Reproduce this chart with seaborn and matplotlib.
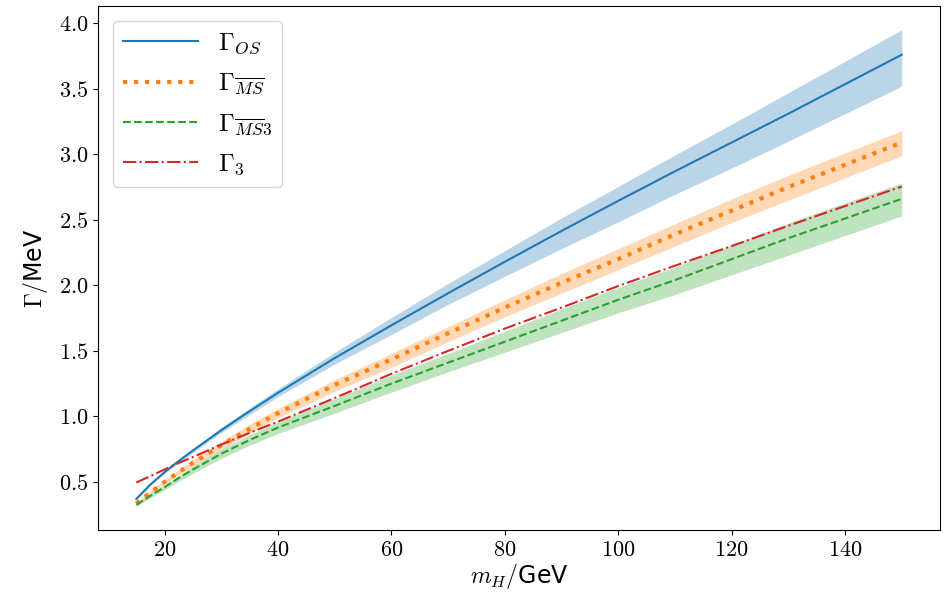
import numpy as np
import pandas as pd
import matplotlib
matplotlib.use("Agg")
import matplotlib.pyplot as plt
import seaborn as sns
from matplotlib.ticker import FuncFormatter

# Higgs mass grid (GeV)
m_h = [15, 17.5, 20, 22.5, 25, 30, 35, 40, 50, 60, 70, 80, 90, 100, 110, 120, 130, 140, 150]

# Gamma_OS (MeV) with band
gamma_os = [0.37, 0.48, 0.575, 0.66, 0.74, 0.895, 1.04, 1.18, 1.445, 1.695, 1.94, 2.18, 2.415, 2.645, 2.87, 3.09, 3.31, 3.535, 3.76]
gamma_os_hi = [0.37, 0.485, 0.585, 0.67, 0.755, 0.915, 1.065, 1.21, 1.49, 1.755, 2.015, 2.265, 2.515, 2.755, 2.995, 3.23, 3.47, 3.71, 3.95]
gamma_os_lo = [0.365, 0.475, 0.565, 0.645, 0.725, 0.875, 1.015, 1.15, 1.40, 1.625, 1.855, 2.07, 2.28, 2.485, 2.695, 2.895, 3.10, 3.31, 3.52]

# Gamma_MSbar
gamma_ms = [0.335, 0.42, 0.50, 0.575, 0.645, 0.78, 0.905, 1.025, 1.24, 1.435, 1.635, 1.83, 2.02, 2.20, 2.39, 2.57, 2.75, 2.92, 3.09]
gamma_ms_hi = [0.345, 0.435, 0.515, 0.595, 0.67, 0.81, 0.94, 1.06, 1.28, 1.48, 1.685, 1.89, 2.09, 2.28, 2.47, 2.66, 2.84, 3.01, 3.18]
gamma_ms_lo = [0.325, 0.405, 0.485, 0.555, 0.62, 0.75, 0.87, 0.99, 1.19, 1.375, 1.57, 1.76, 1.94, 2.12, 2.30, 2.48, 2.65, 2.82, 2.99]

# Gamma_MSbar3
gamma_ms3 = [0.325, 0.395, 0.46, 0.53, 0.595, 0.715, 0.82, 0.915, 1.08, 1.25, 1.41, 1.57, 1.73, 1.89, 2.04, 2.20, 2.36, 2.51, 2.66]
gamma_ms3_hi = [0.335, 0.41, 0.48, 0.55, 0.62, 0.75, 0.86, 0.96, 1.135, 1.315, 1.48, 1.65, 1.82, 1.985, 2.14, 2.31, 2.475, 2.63, 2.78]
gamma_ms3_lo = [0.315, 0.38, 0.44, 0.505, 0.565, 0.68, 0.78, 0.87, 1.025, 1.185, 1.34, 1.49, 1.64, 1.79, 1.93, 2.08, 2.23, 2.38, 2.53]

# Gamma_3 (no band)
gamma_3 = [0.495, 0.545, 0.595, 0.645, 0.69, 0.785, 0.875, 0.96, 1.14, 1.325, 1.50, 1.67, 1.83, 1.995, 2.15, 2.30, 2.455, 2.605, 2.754]

plt.rcParams['mathtext.fontset'] = 'cm'
plt.rcParams['font.size'] = 16

df = pd.DataFrame({'m_h': m_h, 'os': gamma_os, 'ms': gamma_ms,
                   'ms3': gamma_ms3, 'g3': gamma_3})

fig = plt.figure(figsize=(9.45, 6), dpi=100)
ax = fig.add_axes([0.1037, 0.1167, 0.891, 0.8733])

sns.lineplot(data=df, x='m_h', y='os', ax=ax, color='C0', lw=1.5,
             label=r'$\Gamma_{OS}$')
ax.fill_between(m_h, gamma_os_lo, gamma_os_hi, color='C0', alpha=0.3, lw=0)

sns.lineplot(data=df, x='m_h', y='ms', ax=ax, color='C1', lw=3, linestyle=':',
             label=r'$\Gamma_{\overline{MS}}$')
ax.fill_between(m_h, gamma_ms_lo, gamma_ms_hi, color='C1', alpha=0.3, lw=0)

sns.lineplot(data=df, x='m_h', y='ms3', ax=ax, color='C2', lw=1.5, linestyle='--',
             label=r'$\Gamma_{\overline{MS}3}$')
ax.fill_between(m_h, gamma_ms3_lo, gamma_ms3_hi, color='C2', alpha=0.3, lw=0)

sns.lineplot(data=df, x='m_h', y='g3', ax=ax, color='C3', lw=1.5, linestyle='-.',
             label=r'$\Gamma_3$')

ax.set_xlabel(r'$m_H/$GeV', fontsize=17, labelpad=2)
ax.set_ylabel(r'$\Gamma/$MeV', fontsize=17, labelpad=6)

ax.xaxis.set_major_formatter(FuncFormatter(lambda v, p: r'$%d$' % v))
ax.yaxis.set_major_formatter(FuncFormatter(lambda v, p: r'$%.1f$' % v))
ax.tick_params(labelsize=16)

ax.legend(loc='upper left', fontsize=18, handlelength=3.0, labelspacing=0.6,
          borderaxespad=0.6)

plt.savefig('out.png', dpi=100)
